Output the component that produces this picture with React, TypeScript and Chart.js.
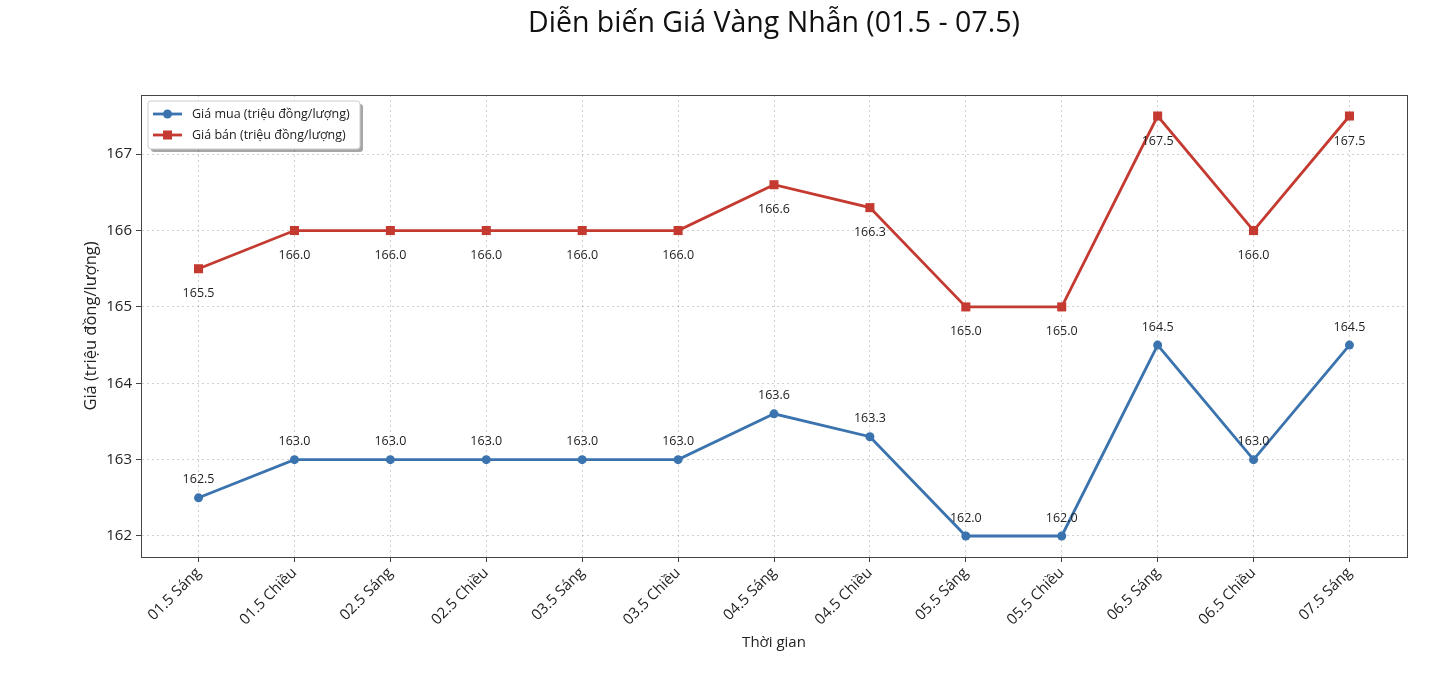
import React, { useEffect, useRef } from "react";
import { Chart, registerables } from "chart.js";

Chart.register(...registerables);

const categories = [
  "01.5 Sáng", "01.5 Chiều", "02.5 Sáng", "02.5 Chiều", "03.5 Sáng", "03.5 Chiều",
  "04.5 Sáng", "04.5 Chiều", "05.5 Sáng", "05.5 Chiều", "06.5 Sáng", "06.5 Chiều", "07.5 Sáng",
];
const buyPrices = [162.5, 163, 163, 163, 163, 163, 163.6, 163.3, 162, 162, 164.5, 163, 164.5];
const sellPrices = [165.5, 166, 166, 166, 166, 166, 166.6, 166.3, 165, 165, 167.5, 166, 167.5];
const yTickValues = [162, 163, 164, 165, 166, 167];
const titleText = "Diễn biến Giá Vàng Nhẫn (01.5 - 07.5)";
const buyLabel = "Giá mua (triệu đồng/lượng)";
const sellLabel = "Giá bán (triệu đồng/lượng)";
const xTitle = "Thời gian";
const yTitle = "Giá (triệu đồng/lượng)";

const FONT = "'Open Sans', Inter, sans-serif";
const BLUE = "#3a73ae";
const RED = "#c43a31";

export default function App() {
  const ref = useRef<HTMLCanvasElement | null>(null);

  useEffect(() => {
    document.body.style.margin = "0";
    if (!ref.current) return;

    const framePlugin = {
      id: "frame",
      afterDraw(chart: any) {
        const { ctx, chartArea: a } = chart;
        ctx.save();
        ctx.strokeStyle = "#444";
        ctx.lineWidth = 1;
        ctx.strokeRect(a.left + 0.5, a.top + 0.5, a.right - a.left, a.bottom - a.top);
        ctx.restore();
      },
    };

    const titlePlugin = {
      id: "customTitle",
      afterDraw(chart: any) {
        const ctx = chart.ctx;
        ctx.save();
        ctx.font = `400 28.5px ${FONT}`;
        ctx.fillStyle = "#111";
        ctx.textAlign = "center";
        ctx.textBaseline = "middle";
        ctx.fillText(titleText, 774, 24);
        ctx.restore();
      },
    };

    const labelPlugin = {
      id: "pointLabels",
      afterDatasetsDraw(chart: any) {
        const ctx = chart.ctx;
        ctx.save();
        ctx.font = `400 12.5px ${FONT}`;
        ctx.fillStyle = "#222";
        ctx.textAlign = "center";
        ctx.textBaseline = "middle";
        chart.data.datasets.forEach((ds: any, di: number) => {
          const meta = chart.getDatasetMeta(di);
          meta.data.forEach((pt: any, i: number) => {
            const v = ds.data[i].y;
            const dy = di === 0 ? -18 : 25;
            ctx.fillText(v.toFixed(1), pt.x, pt.y + dy);
          });
        });
        ctx.restore();
      },
    };

    function roundRect(ctx: any, x: number, y: number, w: number, h: number, r: number) {
      ctx.beginPath();
      ctx.moveTo(x + r, y);
      ctx.lineTo(x + w - r, y);
      ctx.quadraticCurveTo(x + w, y, x + w, y + r);
      ctx.lineTo(x + w, y + h - r);
      ctx.quadraticCurveTo(x + w, y + h, x + w - r, y + h);
      ctx.lineTo(x + r, y + h);
      ctx.quadraticCurveTo(x, y + h, x, y + h - r);
      ctx.lineTo(x, y + r);
      ctx.quadraticCurveTo(x, y, x + r, y);
      ctx.closePath();
    }

    const legendPlugin = {
      id: "customLegend",
      afterDraw(chart: any) {
        const ctx = chart.ctx;
        const x = 148, y = 101, w = 212, h = 48;
        ctx.save();
        ctx.fillStyle = "rgba(0,0,0,0.35)";
        roundRect(ctx, x + 3, y + 3, w, h, 3);
        ctx.fill();
        ctx.fillStyle = "#fff";
        roundRect(ctx, x, y, w, h, 3);
        ctx.fill();
        ctx.strokeStyle = "#ccc";
        ctx.lineWidth = 1;
        ctx.stroke();
        const rows = [
          { label: buyLabel, color: BLUE, style: "circle" },
          { label: sellLabel, color: RED, style: "rect" },
        ];
        rows.forEach((r, i) => {
          const cy = y + 13 + i * 21;
          ctx.strokeStyle = r.color;
          ctx.lineWidth = 2.8;
          ctx.beginPath();
          ctx.moveTo(153, cy);
          ctx.lineTo(182, cy);
          ctx.stroke();
          ctx.fillStyle = r.color;
          if (r.style === "circle") {
            ctx.beginPath();
            ctx.arc(167.5, cy, 4.5, 0, Math.PI * 2);
            ctx.fill();
          } else {
            ctx.fillRect(163, cy - 4.5, 9, 9);
          }
          ctx.fillStyle = "#222";
          ctx.font = `400 12.5px ${FONT}`;
          ctx.textAlign = "left";
          ctx.textBaseline = "middle";
          ctx.fillText(r.label, 192, cy);
        });
        ctx.restore();
      },
    };

    const gridCfg = {
      color: "rgba(0,0,0,0.18)",
      tickColor: "#444",
      tickBorderDash: [],
      tickLength: 5,
      drawTicks: true,
    };

    const chart = new Chart(ref.current, {
      type: "line",
      data: {
        datasets: [
          {
            label: buyLabel,
            data: buyPrices.map((v, i) => ({ x: i, y: v })),
            borderColor: BLUE,
            backgroundColor: BLUE,
            borderWidth: 2.8,
            pointStyle: "circle",
            pointRadius: 4.5,
            pointBorderWidth: 0,
            tension: 0,
          },
          {
            label: sellLabel,
            data: sellPrices.map((v, i) => ({ x: i, y: v })),
            borderColor: RED,
            backgroundColor: RED,
            borderWidth: 2.8,
            pointStyle: "rect",
            pointRadius: 6.4,
            pointBorderWidth: 0,
            tension: 0,
          },
        ],
      },
      options: {
        animation: false,
        responsive: true,
        maintainAspectRatio: false,
        layout: { padding: { left: 80, right: 35, top: 95, bottom: 26 } },
        plugins: {
          legend: { display: false },
          title: { display: false },
          tooltip: { enabled: false },
        },
        scales: {
          x: {
            type: "linear",
            min: -0.6,
            max: 12.6,
            afterBuildTicks(scale: any) {
              scale.ticks = categories.map((_, i) => ({ value: i }));
            },
            afterFit(scale: any) {
              scale.height = 99;
            },
            ticks: {
              autoSkip: false,
              maxRotation: 45,
              minRotation: 45,
              padding: 2,
              color: "#222",
              font: { family: FONT, size: 15 },
              callback: (v: any) => categories[v as number] ?? "",
            },
            grid: gridCfg,
            border: { display: true, color: "#444", width: 1, dash: [2, 3] },
            title: {
              display: true,
              text: xTitle,
              color: "#222",
              font: { family: FONT, size: 15 },
              padding: { top: 4, bottom: 4 },
            },
          },
          y: {
            type: "linear",
            min: 161.725,
            max: 167.775,
            afterBuildTicks(scale: any) {
              scale.ticks = yTickValues.map((v) => ({ value: v }));
            },
            afterFit(scale: any) {
              scale.width = 61;
            },
            ticks: {
              padding: 4,
              color: "#222",
              font: { family: FONT, size: 15 },
              callback: (v: any) => String(v),
            },
            grid: gridCfg,
            border: { display: true, color: "#444", width: 1, dash: [2, 3] },
            title: {
              display: true,
              text: yTitle,
              color: "#222",
              font: { family: FONT, size: 16.5 },
              padding: { top: 1, bottom: 4 },
            },
          },
        },
      } as any,
      plugins: [framePlugin, labelPlugin, legendPlugin, titlePlugin],
    });

    return () => chart.destroy();
  }, []);

  return (
    <div style={{ width: 1442, height: 682, position: "relative" }}>
      <canvas ref={ref} />
    </div>
  );
}
